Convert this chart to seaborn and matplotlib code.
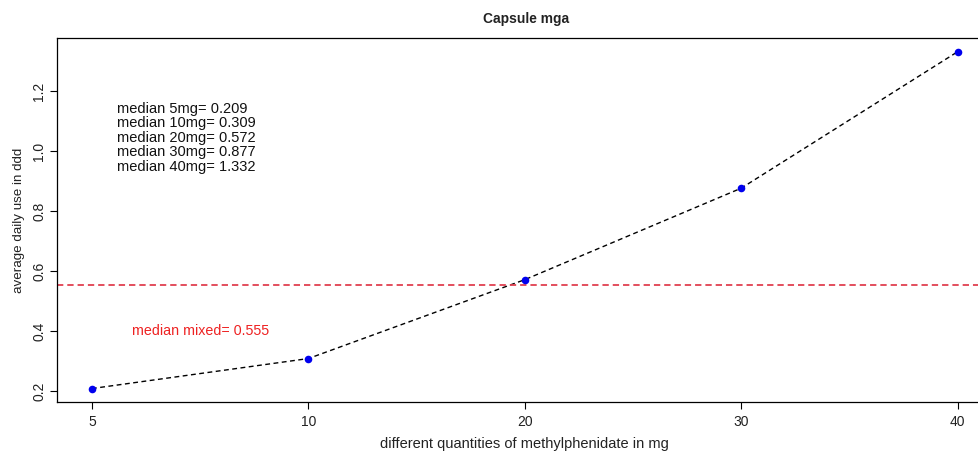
import matplotlib
matplotlib.use("Agg")
import matplotlib.pyplot as plt
import numpy as np
import pandas as pd
import seaborn as sns

# Dose groups (equally spaced categories) and their median daily use
doses = ["5", "10", "20", "30", "40"]
medians = [0.209, 0.309, 0.572, 0.877, 1.332]
mixed_median = 0.555
y_ticks = [0.2, 0.4, 0.6, 0.8, 1.0, 1.2]

df = pd.DataFrame({"pos": np.arange(len(doses)), "ddd": medians, "dose": doses})

sns.set_theme(style="white")
plt.rcParams["font.family"] = ["Liberation Sans", "DejaVu Sans"]

fig = plt.figure(figsize=(9.79, 4.51), dpi=100)
ax = fig.add_axes([0.0585, 0.1086, 0.955, 0.8065])

sns.lineplot(data=df, x="pos", y="ddd", ax=ax, color="black", linewidth=1.0,
             dashes=False, linestyle=(0, (3.5, 2.5)))
sns.scatterplot(data=df, x="pos", y="ddd", ax=ax, color="#0000ee", s=30,
                edgecolor="#0000ee", linewidth=0, zorder=3)

ax.axhline(mixed_median, color="#e04050", linewidth=1.3, linestyle=(0, (3.5, 2.2)))

ax.set_xlim(-0.16, len(doses) - 1 + 0.16)
lo, hi = min(medians), max(medians)
pad = (hi - lo) * 0.04
ax.set_ylim(lo - pad, hi + pad)

ax.set_xticks(df["pos"])
ax.set_xticklabels(doses)
ax.set_yticks(y_ticks)
ax.set_yticklabels([f"{v:.1f}" for v in y_ticks], rotation=90, va="center")

ax.tick_params(axis="both", direction="out", length=5, width=0.8, color="black",
               labelsize=10, labelcolor="#222222")
ax.tick_params(axis="x", bottom=True, pad=4)
ax.tick_params(axis="y", left=True, pad=3)
for sp in ax.spines.values():
    sp.set_color("black")
    sp.set_linewidth(0.9)
ax.spines["right"].set_visible(False)

ax.set_xlabel("different quantities of methylphenidate in mg", fontsize=10.5,
              color="#222222", labelpad=6)
ax.set_ylabel("average daily use in ddd", fontsize=9.6, color="#222222", labelpad=5)
fig.text(0.537, 0.958, "Capsule mga", ha="center", va="center", fontsize=9.9,
         fontweight="bold", color="#222222")

lines = [f"median {d}mg= {m:.3f}" for d, m in zip(doses, medians)]
y0 = 1.142
for i, t in enumerate(lines):
    ax.text(0.115, y0 - i * 0.0485, t, fontsize=10.5, color="#111111",
            ha="left", va="center")

ax.text(0.5, 0.402, f"median mixed= {mixed_median:.3f}", fontsize=10.3,
        color="#ee2222", ha="center", va="center")

fig.savefig("out.png", dpi=100)
